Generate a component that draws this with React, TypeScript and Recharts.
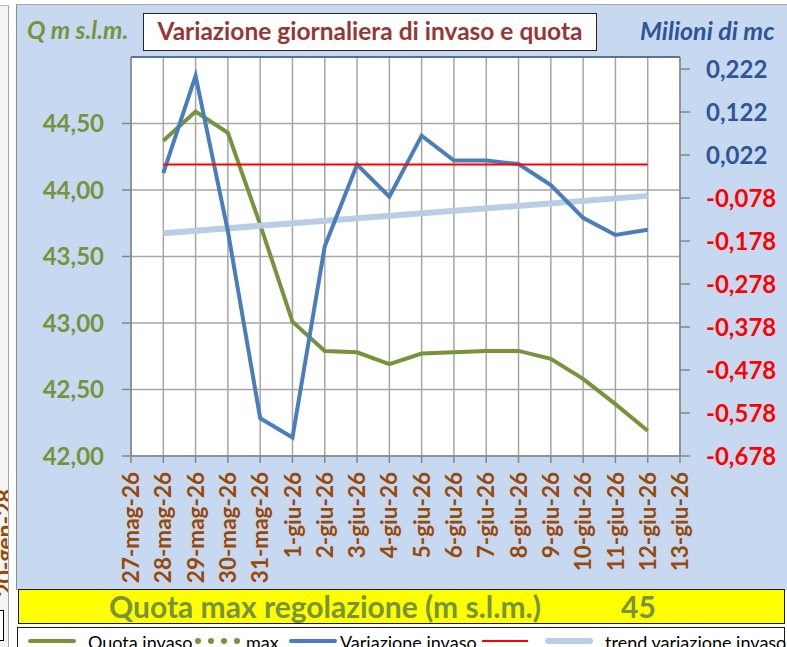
import React from 'react';
import { CartesianGrid, ComposedChart, Line, ReferenceLine, XAxis, YAxis } from 'recharts';

// dates on the category axis
const dates = [
  '27-mag-26', '28-mag-26', '29-mag-26', '30-mag-26', '31-mag-26',
  '1-giu-26', '2-giu-26', '3-giu-26', '4-giu-26', '5-giu-26', '6-giu-26',
  '7-giu-26', '8-giu-26', '9-giu-26', '10-giu-26', '11-giu-26', '12-giu-26', '13-giu-26'
];

// quota invaso (m s.l.m.), left axis
const quotaInvaso = [
  null, 44.37, 44.59, 44.43, 43.74, 43.01, 42.79, 42.78, 42.69, 42.77, 42.78,
  42.79, 42.79, 42.73, 42.58, 42.39, 42.19, null
];

// variazione invaso (milioni di mc), right axis
const variazioneInvaso = [
  null, -0.02, 0.206, -0.155, -0.59, -0.635, -0.19, 0.0, -0.075, 0.067, 0.009,
  0.009, 0.001, -0.048, -0.124, -0.164, -0.152, null
];

// red reference series (zero variation)
const zeroVariazione = [
  null, 0, 0, 0, 0, 0, 0, 0, 0, 0, 0, 0, 0, 0, 0, 0, 0, null
];

// trend line, only its end points
const trendVariazione = [
  null, -0.16, null, null, null, null, null, null, null, null, null,
  null, null, null, null, null, -0.073, null
];

const quotaMax = 45;
const leftTicks = [42, 42.5, 43, 43.5, 44, 44.5];
const rightTicks = [-0.678, -0.578, -0.478, -0.378, -0.278, -0.178, -0.078, 0.022, 0.122, 0.222];

const FONT = 'Lato, "Open Sans", sans-serif';
const GREEN = '#77933C';
const BLUE = '#4A7EBB';
const BROWN = '#984807';

const data = dates.map((d, i) => ({
  date: d,
  quota: quotaInvaso[i],
  variazione: variazioneInvaso[i],
  zero: zeroVariazione[i],
  trend: trendVariazione[i]
}));

const comma = (v: number, digits: number) => v.toFixed(digits).replace('.', ',');

const LeftTick = ({ x, y, payload }: any) => (
  <text x={x} y={y} dy="0.36em" textAnchor="end" fill={GREEN} fontSize={24} fontWeight={700} fontFamily={FONT}>
    {comma(payload.value, 2)}
  </text>
);

const RightTick = ({ x, y, payload }: any) => (
  <text
    x={x}
    y={y}
    dy="0.36em"
    textAnchor="start"
    fill={payload.value < 0 ? '#FF0000' : '#2F5597'}
    fontSize={24}
    fontWeight={700}
    fontFamily={FONT}
  >
    {comma(payload.value, 3)}
  </text>
);

const DateTick = ({ x, y, payload }: any) => (
  <g transform={`translate(${x},${y})`}>
    <text transform="rotate(-90)" textAnchor="end" dy="0.36em" fill={BROWN} fontSize={22.5} fontWeight={700} fontFamily={FONT}>
      {payload.value}
    </text>
  </g>
);

const abs = (style: React.CSSProperties): React.CSSProperties => ({ position: 'absolute', boxSizing: 'border-box', ...style });

export default function App() {
  return (
    <div style={abs({ left: 0, top: 0, width: 787, height: 647, overflow: 'hidden', background: '#fff', fontFamily: FONT })}>
      {/* neighbouring sheet strip */}
      <div style={abs({ left: 0, top: 5, width: 9, height: 642, background: '#F4F4F4', borderRight: '1px solid #A6A6A6', borderTop: '1px solid #BFBFBF', overflow: 'hidden' })}>
        <div
          style={abs({
            left: -56,
            top: 525,
            width: 120,
            height: 24,
            transform: 'rotate(-90deg)',
            color: BROWN,
            fontSize: 23,
            fontWeight: 700,
            textAlign: 'center',
            lineHeight: '24px'
          })}
        >
          20-gen-28
        </div>
      </div>
      <div style={abs({ left: -10, top: 610, width: 14, height: 31, background: '#fff', border: '1px solid #000' })} />

      {/* main panel */}
      <div style={abs({ left: 16, top: 4, width: 780, height: 586, background: '#C6D9F1', borderLeft: '1.5px solid #8C8C8C', borderTop: '1.5px solid #A6A6A6' })} />

      <div style={abs({ left: 27, top: 14, color: GREEN, fontSize: 24.5, fontWeight: 700, fontStyle: 'italic', lineHeight: '32px' })}>
        Q m s.l.m.
      </div>
      <div style={abs({ left: 640, top: 14, color: '#2F5597', fontSize: 25, fontWeight: 700, fontStyle: 'italic', lineHeight: '32px' })}>
        Milioni di mc
      </div>
      <div
        style={abs({
          left: 143,
          top: 13,
          width: 454,
          height: 38,
          background: '#fff',
          border: '1.5px solid #262626',
          color: '#953735',
          fontSize: 24.5,
          fontWeight: 700,
          textAlign: 'center',
          lineHeight: '34px',
          whiteSpace: 'nowrap'
        })}
      >
        Variazione giornaliera di invaso e quota
      </div>

      <div style={abs({ left: 0, top: 0 })}>
        <ComposedChart width={787} height={588} data={data} margin={{ top: 57, right: 0, bottom: 0, left: 0 }}>
          <CartesianGrid yAxisId="left" stroke="#A6A6A6" strokeWidth={1.5} fill="#FFFFFF" fillOpacity={1} />
          <XAxis
            dataKey="date"
            height={132}
            interval={0}
            tick={<DateTick />}
            tickSize={7}
            tickMargin={9}
            axisLine={{ stroke: '#868686', strokeWidth: 1.5 }}
            tickLine={{ stroke: '#868686', strokeWidth: 1.5 }}
          />
          <YAxis
            yAxisId="left"
            orientation="left"
            width={131}
            domain={[42, quotaMax]}
            ticks={leftTicks}
            allowDataOverflow
            tick={<LeftTick />}
            tickSize={9}
            tickMargin={18}
            axisLine={{ stroke: '#868686', strokeWidth: 1.5 }}
            tickLine={{ stroke: '#868686', strokeWidth: 1.5 }}
          />
          <YAxis
            yAxisId="right"
            orientation="right"
            width={107}
            domain={[-0.678, 0.25]}
            ticks={rightTicks}
            allowDataOverflow
            tick={<RightTick />}
            tickSize={10}
            tickMargin={16}
            axisLine={{ stroke: '#868686', strokeWidth: 1.5 }}
            tickLine={{ stroke: '#868686', strokeWidth: 1.5 }}
          />
          <ReferenceLine yAxisId="left" y={quotaMax} stroke="#385D8A" strokeWidth={1.5} />
          <Line
            yAxisId="left"
            dataKey="quota"
            stroke={GREEN}
            strokeWidth={4}
            dot={false}
            activeDot={false}
            isAnimationActive={false}
          />
          <Line
            yAxisId="right"
            dataKey="trend"
            stroke="#B9CDE5"
            strokeWidth={6}
            dot={false}
            activeDot={false}
            connectNulls
            isAnimationActive={false}
          />
          <Line
            yAxisId="right"
            dataKey="variazione"
            stroke={BLUE}
            strokeWidth={4}
            dot={false}
            activeDot={false}
            isAnimationActive={false}
          />
          <Line
            yAxisId="right"
            dataKey="zero"
            stroke="#FF0000"
            strokeWidth={2}
            dot={false}
            activeDot={false}
            isAnimationActive={false}
          />
        </ComposedChart>
      </div>

      {/* quota max bar */}
      <div style={abs({ left: 18, top: 589, width: 767, height: 35, background: '#FFFF00', border: '1.5px solid #1a1a1a' })} />
      <div style={abs({ left: 109, top: 589, color: GREEN, fontSize: 30, fontWeight: 700, lineHeight: '35px', whiteSpace: 'nowrap' })}>
        Quota max regolazione (m s.l.m.)
      </div>
      <div style={abs({ left: 621, top: 589, color: GREEN, fontSize: 30, fontWeight: 700, lineHeight: '35px' })}>
        {quotaMax}
      </div>

      {/* legend */}
      <div style={abs({ left: 17, top: 627, width: 768, height: 40, background: '#fff', border: '1.5px solid #1a1a1a' })} />
      <div style={abs({ left: 28, top: 639, width: 48, height: 4, background: GREEN, borderRadius: 2 })} />
      <div style={abs({ left: 88, top: 631, fontSize: 18, color: '#000', lineHeight: '22px' })}>Quota invaso</div>
      {[195, 208, 221, 234].map((x) => (
        <div key={x} style={abs({ left: x, top: 638, width: 6, height: 6, background: GREEN, borderRadius: 3 })} />
      ))}
      <div style={abs({ left: 246, top: 631, fontSize: 18, color: '#000', lineHeight: '22px' })}>max</div>
      <div style={abs({ left: 289, top: 639, width: 48, height: 4, background: BLUE, borderRadius: 2 })} />
      <div style={abs({ left: 340, top: 631, fontSize: 18, color: '#000', lineHeight: '22px' })}>Variazione invaso</div>
      <div style={abs({ left: 482, top: 640, width: 46, height: 2, background: '#FF0000' })} />
      <div style={abs({ left: 545, top: 638, width: 48, height: 6, background: '#B9CDE5', borderRadius: 3 })} />
      <div style={abs({ left: 605, top: 631, fontSize: 18, color: '#000', lineHeight: '22px' })}>trend variazione invaso</div>
    </div>
  );
}
